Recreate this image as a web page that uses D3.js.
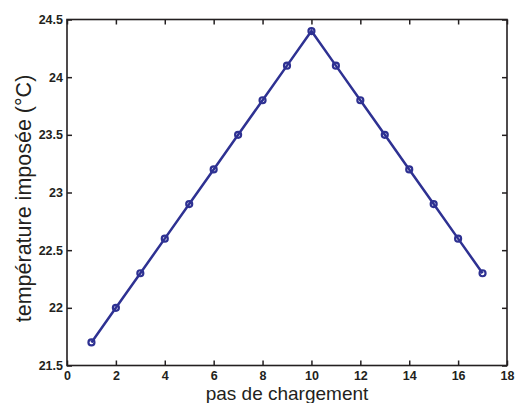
<!DOCTYPE html>
<html><head><meta charset="utf-8">
<script src="https://cdn.jsdelivr.net/npm/d3@7"></script>
<style>body{margin:0;background:#fff}</style>
</head><body>
<script>
const steps = [1,2,3,4,5,6,7,8,9,10,11,12,13,14,15,16,17];
const temps = [21.7,22.0,22.3,22.6,22.9,23.2,23.5,23.8,24.1,24.4,24.1,23.8,23.5,23.2,22.9,22.6,22.3];
const xTicks = [0,2,4,6,8,10,12,14,16,18];
const yTicks = [21.5,22,22.5,23,23.5,24,24.5];
const xLabel = "pas de chargement";
const yLabel = "température imposée (°C)";

const W=515,H=403;
const L=67,R=507,T=19.5,B=365.5;
const svg=d3.select("body").append("svg").attr("width",W).attr("height",H);
const x=d3.scaleLinear().domain([0,18]).range([L,R]);
const y=d3.scaleLinear().domain([21.5,24.5]).range([B,T]);
const axCol="#231f20";
const font="Liberation Sans, Arial, sans-serif";

function styleAxis(g,showLabels){
  g.select(".domain").remove();
  g.selectAll(".tick line").attr("stroke",axCol).attr("stroke-width",1.5);
  g.selectAll(".tick text").attr("fill",axCol).attr("font-family",font).attr("font-size","12.5px").attr("font-weight","bold");
  if(!showLabels) g.selectAll(".tick text").remove();
}
const fmt=d=>String(d);
svg.append("g").attr("transform",`translate(0,${B})`).call(d3.axisBottom(x).tickValues(xTicks).tickFormat(fmt).tickSizeInner(-5).tickPadding(6)).call(g=>styleAxis(g,true));
svg.append("g").attr("transform",`translate(0,${T})`).call(d3.axisTop(x).tickValues(xTicks).tickSizeInner(-5)).call(g=>styleAxis(g,false));
svg.append("g").attr("transform",`translate(${L},0)`).call(d3.axisLeft(y).tickValues(yTicks).tickFormat(fmt).tickSizeInner(-5).tickPadding(4)).call(g=>styleAxis(g,true));
svg.append("g").attr("transform",`translate(${R},0)`).call(d3.axisRight(y).tickValues(yTicks).tickSizeInner(-5)).call(g=>styleAxis(g,false));
svg.append("rect").attr("x",L).attr("y",T).attr("width",R-L).attr("height",B-T).attr("fill","none").attr("stroke",axCol).attr("stroke-width",1.6);

const data=steps.map((s,i)=>({s,t:temps[i]}));
const col="#2e3192";
svg.append("path").datum(data).attr("fill","none").attr("stroke",col).attr("stroke-width",2.5)
  .attr("d",d3.line().x(d=>x(d.s)).y(d=>y(d.t)));
svg.selectAll("circle.m").data(data).enter().append("circle").attr("class","m")
  .attr("cx",d=>x(d.s)).attr("cy",d=>y(d.t)).attr("r",3).attr("fill","none").attr("stroke",col).attr("stroke-width",2.2);

svg.append("text").attr("x",(L+R)/2).attr("y",400).attr("text-anchor","middle")
  .attr("font-family",font).attr("font-size","19px").attr("fill",axCol).text(xLabel);
svg.append("text").attr("transform",`translate(31,${(65+332)/2}) rotate(-90)`).attr("text-anchor","middle")
  .attr("font-family",font).attr("font-size","21.5px").attr("fill",axCol).text(yLabel);
</script>
</body></html>
